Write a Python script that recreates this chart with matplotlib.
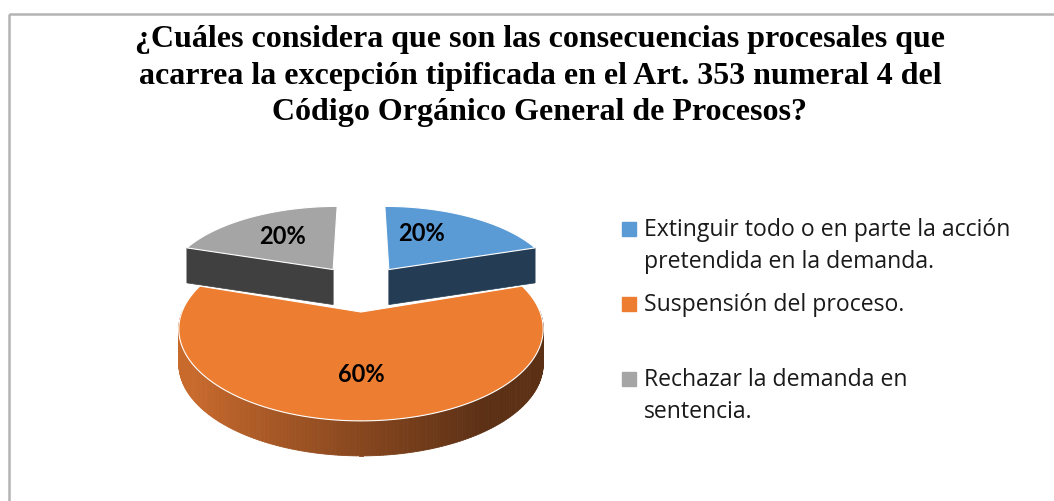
import numpy as np
import matplotlib
matplotlib.use("Agg")
import matplotlib.pyplot as plt
from matplotlib.colors import to_rgb
from matplotlib.patches import Rectangle

# ---- data ----
labels = [["Extinguir todo o en parte la acción", "pretendida en la demanda."],
          ["Suspensión del proceso."],
          ["Rechazar la demanda en", "sentencia."]]
values = [20, 60, 20]
pct_text = ["20%", "60%", "20%"]
top_colors = ["#5b9bd5", "#ed7d31", "#a5a5a5"]
side_colors = ["#243d55", ("#c96a2d", "#5c3015"), "#404040"]
title_lines = ["¿Cuáles considera que son las consecuencias procesales que",
               "acarrea la excepción tipificada en el Art. 353 numeral 4 del",
               "Código Orgánico General de Procesos?"]

# ---- 3D pie geometry (pixel units) ----
CX, CY = 361, 287.6     # projected centre
SX, SY = 170, 80        # horizontal / vertical scale
K = 0.175               # perspective strength
EXPLODE = 0.29
DEPTH = 35
LAB_R = [0.575, 0.62, 0.6]   # label distance from slice apex
LAB_ROT = [12, 0, 0]         # label angle shift (deg)


def proj(X, Y):
    w = 1 + K * np.asarray(Y)
    return CX + SX * np.asarray(X) / w, CY - SY * np.asarray(Y) / w


def arc(ox, oy, t1, t2, n=120):
    t = np.radians(np.linspace(t1, t2, n))
    return ox + np.cos(t), oy + np.sin(t)


W, H = 1054, 501
fig = plt.figure(figsize=(W / 100, H / 100), dpi=100)
ax = fig.add_axes([0, 0, 1, 1])
ax.set_xlim(0, W)
ax.set_ylim(H, 0)
ax.axis("off")

# chart frame (only top and left edges are inside the picture)
ax.add_patch(Rectangle((9, 14), W, H, fill=False, edgecolor="#b4b4b4", lw=1.8))

fracs = np.array(values) / sum(values)
cum = np.concatenate([[0], np.cumsum(fracs)])
slices = []
for i in range(len(values)):
    t1 = 90 - 360 * cum[i]
    t2 = 90 - 360 * cum[i + 1]
    mid = np.radians((t1 + t2) / 2)
    ox, oy = EXPLODE * np.cos(mid), EXPLODE * np.sin(mid)
    slices.append((i, t1, t2, ox, oy))

# draw back slices first (orange last, it sits in front)
order = sorted(slices, key=lambda s: s[4], reverse=True)

for i, t1, t2, ox, oy in order:
    ax_, ay_ = proj(ox, oy)
    # radial faces facing the viewer
    for te, visible in ((t2, np.cos(np.radians(t2)) > 1e-6),
                        (t1, np.cos(np.radians(t1)) < -1e-6)):
        if not visible:
            continue
        rx, ry = proj(ox + np.cos(np.radians(te)), oy + np.sin(np.radians(te)))
        col = side_colors[i] if isinstance(side_colors[i], str) else side_colors[i][1]
        ax.fill([ax_, rx, rx, ax_], [ay_, ry, ry + DEPTH, ay_ + DEPTH],
                color=col, lw=0.5, ec=col, zorder=2)
    # outer wall on the front half
    tt = np.linspace(t2, t1, 240)
    tt = tt[np.sin(np.radians(tt)) < 0.02]
    if len(tt) > 1:
        px, py = proj(ox + np.cos(np.radians(tt)), oy + np.sin(np.radians(tt)))
        sc = side_colors[i]
        if isinstance(sc, str):
            c0 = c1 = np.array(to_rgb(sc))
        else:
            c0, c1 = np.array(to_rgb(sc[0])), np.array(to_rgb(sc[1]))
        xmin, xmax = px.min(), px.max()
        for j in range(len(px) - 1):
            f = ((px[j] + px[j + 1]) / 2 - xmin) / (xmax - xmin)
            f = np.clip(f * 1.25 - 0.05, 0, 1) ** 0.9
            col = c0 * (1 - f) + c1 * f
            ax.fill([px[j], px[j + 1], px[j + 1], px[j]],
                    [py[j], py[j + 1], py[j + 1] + DEPTH, py[j] + DEPTH],
                    color=col, lw=0.6, ec=col, zorder=2)
    # top face
    X, Y = arc(ox, oy, t1, t2)
    px, py = proj(np.concatenate([[ox], X]), np.concatenate([[oy], Y]))
    ax.fill(px, py, color=top_colors[i], ec="white", lw=0.8, zorder=3)

# percentage labels
for i, t1, t2, ox, oy in slices:
    ang = np.radians((t1 + t2) / 2 + LAB_ROT[i])
    lx, ly = proj(ox + LAB_R[i] * np.cos(ang), oy + LAB_R[i] * np.sin(ang))
    ax.text(lx, ly, pct_text[i], ha="center", va="center", fontsize=17,
            fontweight="bold", family="Lato", color="black", zorder=5)

# legend
sq_y = [229, 304, 379]
base_y = [[236, 268], [311], [386, 418]]
for i, lines in enumerate(labels):
    ax.add_patch(Rectangle((622, sq_y[i] - 7), 14, 14, color=top_colors[i], zorder=4))
    for ln, by in zip(lines, base_y[i]):
        ax.text(644, by, ln, ha="left", va="baseline", fontsize=16.6,
                family="Open Sans", color="#1a1a1a", zorder=4)

# title
title_base = [47, 84, 120]
for ln, by in zip(title_lines, title_base):
    ax.text(540, by, ln, ha="center", va="baseline", fontsize=23,
            fontweight="bold", family="Liberation Serif")

fig.savefig("out.png", dpi=100)
